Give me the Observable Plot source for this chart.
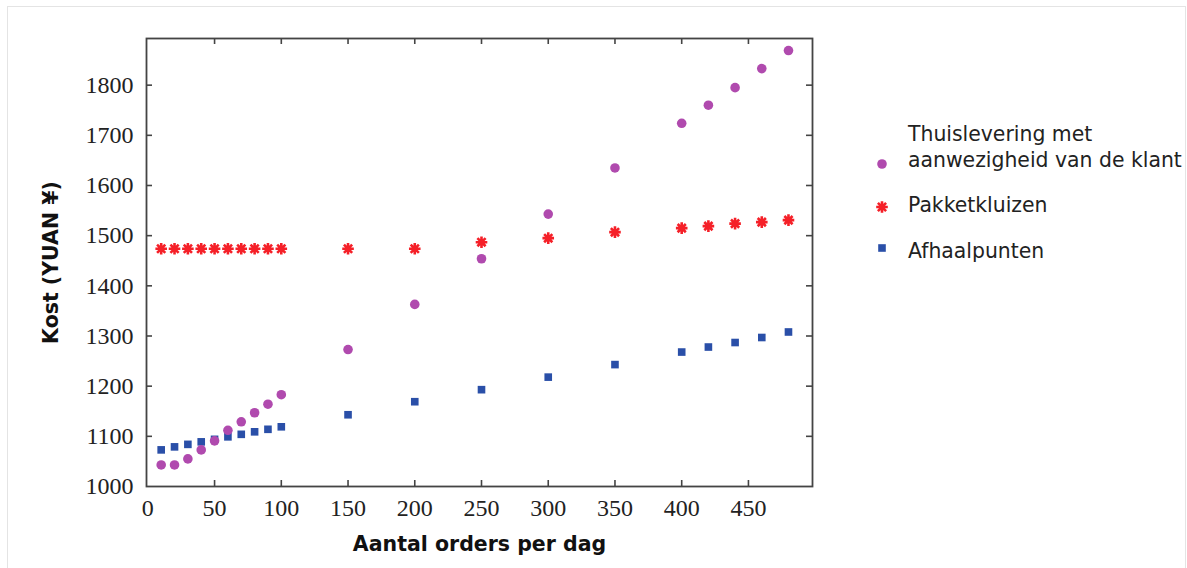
<!DOCTYPE html>
<html>
<head>
<meta charset="utf-8">
<script src="https://cdn.jsdelivr.net/npm/d3@7"></script>
<script src="https://cdn.jsdelivr.net/npm/@observablehq/plot@0.6"></script>
<style>
  html, body { margin: 0; padding: 0; background: #fff; }
  #wrap { position: relative; width: 1187px; height: 568px; overflow: hidden; }
  #border { position: absolute; left: 7px; top: 6px; width: 1179px; height: 600px; border: 1px solid #e4e4e4; box-sizing: border-box; }
  #chart { position: absolute; left: 0; top: 0; }
  #legend { position: absolute; left: 870px; top: 120px; font-family: "DejaVu Sans", Verdana, sans-serif; font-size: 20.4px; color: #222; }
  .item { position: absolute; left: 0; white-space: nowrap; }
  .item svg { position: absolute; left: 0; }
  .item span { position: absolute; left: 38px; line-height: 26px; }
</style>
</head>
<body>
<div id="wrap">
  <div id="border"></div>
  <div id="chart"></div>
  <div id="legend"></div>
</div>
<script>
// ---- Data ----
const orders = [10, 20, 30, 40, 50, 60, 70, 80, 90, 100, 150, 200, 250, 300, 350, 400, 420, 440, 460, 480];
const thuislevering = [1043, 1043, 1055, 1073, 1091, 1112, 1129, 1147, 1164, 1183, 1273, 1363, 1454, 1543, 1635, 1724, 1760, 1795, 1833, 1869];
const pakketkluizen = [1474, 1474, 1474, 1474, 1474, 1474, 1474, 1474, 1474, 1474, 1474, 1474, 1487, 1495, 1507, 1515, 1519, 1524, 1527, 1531];
const afhaalpunten = [1073, 1079, 1084, 1089, 1094, 1099, 1104, 1109, 1114, 1119, 1143, 1169, 1193, 1218, 1243, 1268, 1278, 1287, 1297, 1308];
const xTicks = [0, 50, 100, 150, 200, 250, 300, 350, 400, 450];
const yTicks = [1000, 1100, 1200, 1300, 1400, 1500, 1600, 1700, 1800];
const seriesNames = ["Thuislevering met\naanwezigheid van de klant", "Pakketkluizen", "Afhaalpunten"];
const seriesColors = ["#b04aae", "#f52028", "#2a4fa8"];
const xTitle = "Aantal orders per dag";
const yTitle = "Kost (YUAN ¥)";

const rows = (vals) => orders.map((x, i) => ({x, y: vals[i]}));

const asterisk8 = {
  draw(ctx, size) {
    const r = Math.sqrt(size / Math.PI);
    for (let i = 0; i < 4; i++) {
      const a = i * Math.PI / 4;
      ctx.moveTo(r * Math.cos(a), r * Math.sin(a));
      ctx.lineTo(-r * Math.cos(a), -r * Math.sin(a));
    }
  }
};

const W = 1187, H = 568;
const mL = 146, mR = 375, mT = 38, mB = 82;
const fw = W - mL - mR, fh = H - mT - mB;
const tick = 6;
const serif = "Liberation Serif, Times New Roman, serif";
const sans = "DejaVu Sans, Verdana, sans-serif";

const chart = Plot.plot({
  width: W,
  height: H,
  marginLeft: mL,
  marginRight: mR,
  marginTop: mT,
  marginBottom: mB,
  x: {domain: [-1, 498]},
  y: {domain: [1000, 1893]},
  style: {background: "transparent", overflow: "visible"},
  marks: [
    // tick labels
    Plot.axisX({ticks: xTicks, tickSize: 0, tickPadding: 12, label: null, tickFormat: d => String(d),
      fontFamily: serif, fontSize: 24, fill: "#222"}),
    Plot.axisY({ticks: yTicks, tickSize: 0, tickPadding: 13, label: null, tickFormat: d => String(d),
      fontFamily: serif, fontSize: 24, fill: "#222"}),
    // inward ticks on all four sides
    Plot.ruleX(xTicks.filter(d => d > 0), {x: d => d, insetTop: fh - tick, stroke: "#444", strokeWidth: 1.6}),
    Plot.ruleX(xTicks.filter(d => d > 0), {x: d => d, insetBottom: fh - tick, stroke: "#444", strokeWidth: 1.6}),
    Plot.ruleY(yTicks.filter(d => d > 1000), {y: d => d, insetRight: fw - tick, stroke: "#444", strokeWidth: 1.6}),
    Plot.ruleY(yTicks.filter(d => d > 1000), {y: d => d, insetLeft: fw - tick, stroke: "#444", strokeWidth: 1.6}),
    Plot.frame({stroke: "#444", strokeWidth: 1.8}),
    // data
    Plot.dot(rows(pakketkluizen), {x: "x", y: "y", symbol: asterisk8, r: 5.8, stroke: seriesColors[1], strokeWidth: 2.6, fill: "none"}),
    Plot.dot(rows(afhaalpunten), {x: "x", y: "y", symbol: "square", r: 4.3, fill: seriesColors[2], stroke: "none"}),
    Plot.dot(rows(thuislevering), {x: "x", y: "y", symbol: "circle", r: 4.8, fill: seriesColors[0], stroke: "none"}),
    // axis titles
    Plot.text([xTitle], {frameAnchor: "bottom", dy: 64, text: d => d, fontFamily: sans,
      fontWeight: "bold", fontSize: 20.5, fill: "#111"}),
    Plot.text([yTitle], {frameAnchor: "left", dx: -95, rotate: -90, textAnchor: "middle", text: d => d, fontFamily: sans,
      fontWeight: "bold", fontSize: 20.5, fill: "#111"})
  ]
});
document.getElementById("chart").appendChild(chart);

// ---- Legend ----
const legend = document.getElementById("legend");
const symbolSvg = [
  `<svg width="24" height="24" viewBox="-12 -12 24 24"><circle r="4.8" fill="${seriesColors[0]}"/></svg>`,
  `<svg width="24" height="24" viewBox="-12 -12 24 24"><path d="M5.8,0L-5.8,0M4.1,4.1L-4.1,-4.1M0,5.8L0,-5.8M-4.1,4.1L4.1,-4.1" stroke="${seriesColors[1]}" stroke-width="2.6" fill="none"/></svg>`,
  `<svg width="24" height="24" viewBox="-12 -12 24 24"><rect x="-3.8" y="-3.8" width="7.6" height="7.6" fill="${seriesColors[2]}"/></svg>`
];
const markerY = [164, 207, 248];   // marker centers (page px)
const textTop = [[121, 147], [192], [238]];
seriesNames.forEach((name, i) => {
  const item = document.createElement("div");
  item.className = "item";
  item.innerHTML = symbolSvg[i];
  item.querySelector("svg").style.top = (markerY[i] - 120 - 12) + "px";
  name.split("\n").forEach((line, j) => {
    const s = document.createElement("span");
    s.textContent = line;
    s.style.top = (textTop[i][j] - 120) + "px";
    item.appendChild(s);
  });
  legend.appendChild(item);
});
</script>
</body>
</html>
